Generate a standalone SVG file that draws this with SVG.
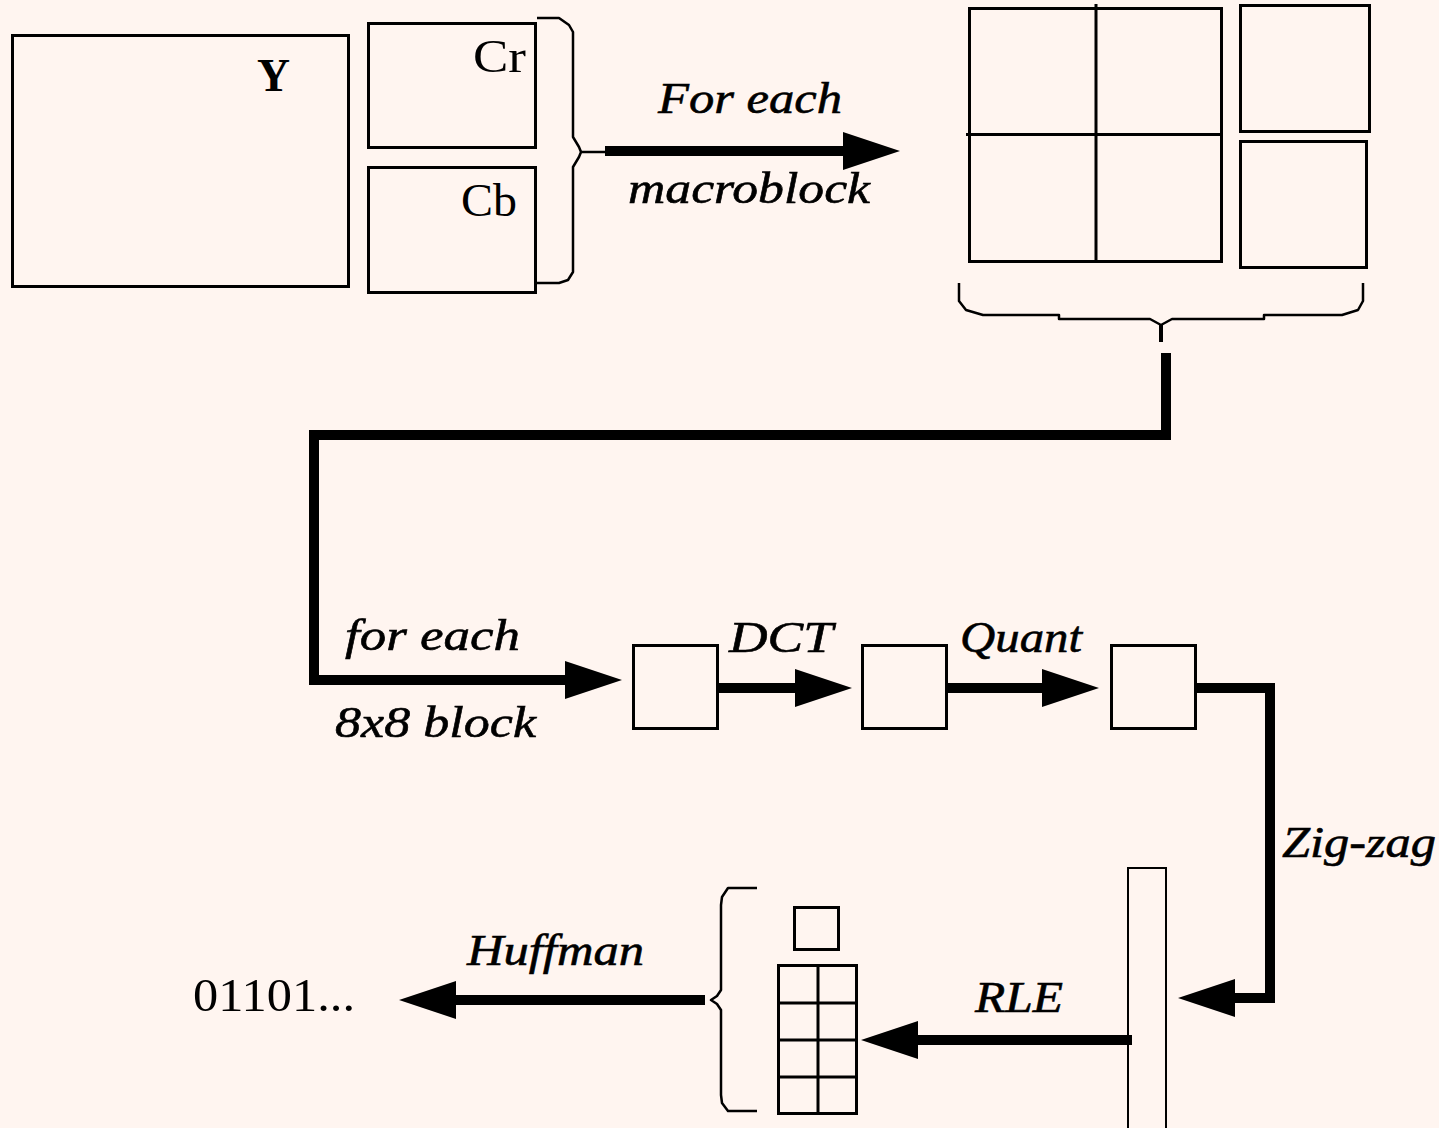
<svg xmlns="http://www.w3.org/2000/svg" width="1439" height="1128" viewBox="0 0 1439 1128">
<style>
.box{fill:none;stroke:#000;stroke-width:3}
.thin{fill:none;stroke:#000;stroke-width:2}
.brace{fill:none;stroke:#000;stroke-width:2.5;stroke-linejoin:round}
.conn{fill:none;stroke:#000;stroke-width:10}
.lbl{font-family:"Liberation Serif","Times New Roman",serif;font-style:italic;font-size:45px;fill:#000;stroke:#000;stroke-width:0.6}
.up{font-family:"Liberation Serif","Times New Roman",serif;font-size:46px;fill:#000}
</style>
<defs>
<marker id="ah" markerUnits="userSpaceOnUse" markerWidth="60" markerHeight="40" refX="3" refY="19" orient="auto" viewBox="0 0 60 40">
<path d="M0,0 L57,19 L0,38 z" fill="#000"/>
</marker>
</defs>
<rect width="1439" height="1128" fill="#fff5f0"/>

<g id="y-plane">
<rect class="box" x="12.5" y="35.5" width="336" height="251"/>
<text class="up" x="257" y="91" font-weight="bold" textLength="33" lengthAdjust="spacingAndGlyphs">Y</text>
</g>
<g id="cr-plane">
<rect class="box" x="368.5" y="23.5" width="167" height="124"/>
<text class="up" x="473" y="72" textLength="53" lengthAdjust="spacingAndGlyphs">Cr</text>
</g>
<g id="cb-plane">
<rect class="box" x="368.5" y="167.5" width="167" height="125"/>
<text class="up" x="461" y="216" textLength="56" lengthAdjust="spacingAndGlyphs">Cb</text>
</g>
<g id="brace-chroma">
<path class="brace" d="M537,18 H559 L569,25 L573,32 V137 L579,147 L581,152 L579,157 L573,167 V272 L568,280 L559,283 H537"/>
<path class="brace" d="M581,152 H605"/>
</g>

<g id="macroblock">
<rect class="box" x="969.5" y="8.5" width="252" height="253"/>
<line class="box" x1="1096" y1="4" x2="1096" y2="261"/>
<line class="box" x1="966" y1="134.5" x2="1221" y2="134.5"/>
<rect class="box" x="1240.5" y="5.5" width="129" height="126"/>
<rect class="box" x="1240.5" y="141.5" width="126" height="126"/>
</g>
<g id="brace-macroblock">
<path class="brace" d="M959,283 V301 L966,310 L983,315 H1059 V319 H1150 L1161,325 L1172,319 H1264 V315 H1342 L1358,310 L1363,301 V283"/>
<line x1="1161" y1="324" x2="1161" y2="342" stroke="#000" stroke-width="4"/>
</g>

<g id="block1"><rect class="box" x="633.5" y="645.5" width="84" height="83"/></g>
<g id="block2"><rect class="box" x="862.5" y="645.5" width="84" height="83"/></g>
<g id="block3"><rect class="box" x="1111.5" y="645.5" width="84" height="83"/></g>

<g id="zigzag-vector"><rect class="thin" x="1128" y="868" width="38" height="270"/></g>

<g id="rle-stack">
<rect class="box" x="794.5" y="907.5" width="44" height="42"/>
<rect class="box" x="778.5" y="965.5" width="78" height="148"/>
<line class="box" x1="818" y1="965" x2="818" y2="1114"/>
<line class="box" x1="778" y1="1003" x2="857" y2="1003"/>
<line class="box" x1="778" y1="1040" x2="857" y2="1040"/>
<line class="box" x1="778" y1="1077" x2="857" y2="1077"/>
</g>
<g id="brace-stack">
<path class="brace" d="M757,888 H728 L722,897 L721,905 V990 L717,996 L711,1000 L717,1004 L721,1010 V1095 L722,1103 L728,1111 H757"/>
</g>

<g id="bitstream"><text class="up" x="193" y="1011" font-size="44" textLength="162" lengthAdjust="spacingAndGlyphs">01101...</text></g>

<g id="connectors">
<path class="conn" d="M605,151 H846" marker-end="url(#ah)"/>
<path class="conn" d="M1166,353 V435 H314 V680 H568" marker-end="url(#ah)"/>
<path class="conn" d="M718,688 H798" marker-end="url(#ah)"/>
<path class="conn" d="M946,688 H1045" marker-end="url(#ah)"/>
<path class="conn" d="M1195,688 H1270 V998 H1232" marker-end="url(#ah)"/>
<path class="conn" d="M1132,1040 H915" marker-end="url(#ah)"/>
<path class="conn" d="M705,1000 H453" marker-end="url(#ah)"/>
</g>

<g id="labels">
<text class="lbl" x="658" y="113" textLength="184" lengthAdjust="spacingAndGlyphs">For each</text>
<text class="lbl" x="628" y="203" textLength="242" lengthAdjust="spacingAndGlyphs">macroblock</text>
<text class="lbl" x="345" y="650" textLength="175" lengthAdjust="spacingAndGlyphs">for each</text>
<text class="lbl" x="335" y="737" textLength="201" lengthAdjust="spacingAndGlyphs">8x8 block</text>
<text class="lbl" x="729" y="652" textLength="104" lengthAdjust="spacingAndGlyphs">DCT</text>
<text class="lbl" x="960" y="652" textLength="122" lengthAdjust="spacingAndGlyphs">Quant</text>
<text class="lbl" x="1282" y="857" textLength="154" lengthAdjust="spacingAndGlyphs">Zig-zag</text>
<text class="lbl" x="975" y="1012" textLength="88" lengthAdjust="spacingAndGlyphs">RLE</text>
<text class="lbl" x="467" y="965" textLength="177" lengthAdjust="spacingAndGlyphs">Huffman</text>
</g>
</svg>
